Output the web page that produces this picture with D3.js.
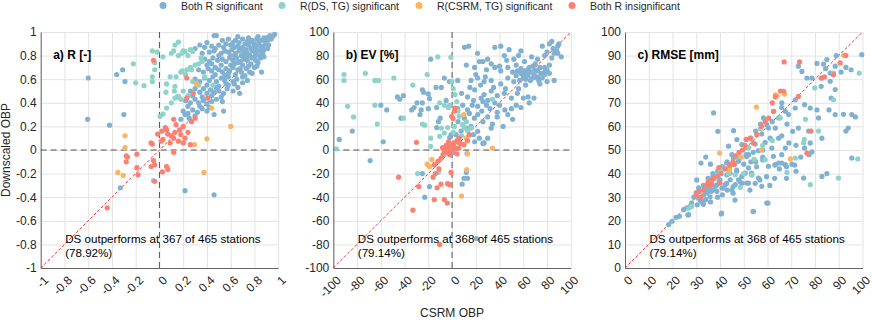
<!DOCTYPE html>
<html>
<head>
<meta charset="utf-8">
<script src="https://cdn.jsdelivr.net/npm/d3@7"></script>
<style>
  body { margin: 0; background: #fff; }
  svg { font-family: "Liberation Sans", Arial, sans-serif; }
</style>
</head>
<body>
<svg width="872" height="320"></svg>
<script>
// categories (legend order)
const categories = ['Both R significant', 'R(DS, TG) significant', 'R(CSRM, TG) significant', 'Both R insignificant']
const catColors = ['#80b1d3', '#8dd3c7', '#fdb462', '#fb8072']

// tick labels
const rTicks = [-1, -0.8, -0.6, -0.4, -0.2, 0, 0.2, 0.4, 0.6, 0.8, 1]
const evTicks = [-100, -80, -60, -40, -20, 0, 20, 40, 60, 80, 100]
const rmseTicks = [0, 10, 20, 30, 40, 50, 60, 70, 80, 90, 100]

const panelTitles = ['a) R [-]', 'b) EV [%]', 'c) RMSE [mm]']
const outperformText = [
  ['DS outperforms at 367 of 465 stations', '(78.92%)'],
  ['DS outperforms at 368 of 465 stations', '(79.14%)'],
  ['DS outperforms at 368 of 465 stations', '(79.14%)']
]

/* ---- a) R : [CSRM OBP, Downscaled OBP] ---- */
const rBoth = [
  [-0.60,0.61],[-0.605,0.26],[-0.42,0.21],[-0.30,0.30],[-0.36,0.64],[-0.31,0.68],[-0.29,0.58],[-0.33,-0.32],
  [0.215,-0.345],[0.46,-0.38],[0.675,0.48],[0.54,0.33],
  [0.93,0.97],[0.95,0.96],[0.97,0.98],[0.90,0.95],[0.46,0.97],[0.48,0.97],
  [0.64,0.93],[0.70,0.94],[0.74,0.92],[0.78,0.93],[0.82,0.94],[0.86,0.93],[0.88,0.95],[0.91,0.93],[0.67,0.91],[0.72,0.90],[0.34,0.89],[0.40,0.91],[0.58,0.94],
  [0.30,0.86],[0.38,0.87],[0.44,0.88],[0.50,0.89],[0.54,0.87],[0.60,0.89],[0.63,0.87],[0.66,0.88],[0.70,0.87],[0.75,0.89],[0.80,0.88],[0.84,0.89],[0.87,0.88],[0.90,0.90],[0.92,0.89],[0.56,0.90],[0.47,0.86],[0.77,0.86],[0.82,0.85],
  [0.36,0.82],[0.42,0.83],[0.46,0.84],[0.52,0.82],[0.55,0.84],[0.58,0.83],[0.61,0.85],[0.64,0.82],[0.67,0.84],[0.71,0.83],[0.74,0.82],[0.78,0.84],[0.81,0.82],[0.85,0.84],[0.88,0.85],[0.60,0.80],[0.69,0.80],[0.73,0.79],[0.76,0.80],[0.84,0.80],[0.50,0.80],
  [0.38,0.77],[0.42,0.75],[0.45,0.78],[0.49,0.76],[0.53,0.77],[0.56,0.75],[0.59,0.78],[0.62,0.76],[0.65,0.78],[0.68,0.75],[0.71,0.77],[0.74,0.76],[0.78,0.78],[0.81,0.76],[0.85,0.78],[0.63,0.73],[0.70,0.72],[0.77,0.73],[0.83,0.74],[0.40,0.72],
  [0.33,0.68],[0.37,0.66],[0.41,0.69],[0.44,0.67],[0.47,0.70],[0.50,0.68],[0.53,0.66],[0.56,0.69],[0.59,0.67],[0.62,0.70],[0.66,0.68],[0.69,0.66],[0.73,0.69],[0.76,0.66],[0.80,0.70],[0.47,0.64],[0.55,0.63],[0.64,0.64],[0.72,0.63],[0.86,0.66],
  [0.30,0.60],[0.34,0.58],[0.38,0.61],[0.42,0.59],[0.45,0.62],[0.48,0.58],[0.52,0.61],[0.55,0.59],[0.58,0.62],[0.62,0.58],[0.65,0.60],[0.70,0.57],[0.74,0.59],[0.40,0.55],[0.50,0.54],[0.58,0.55],[0.66,0.53],
  [0.26,0.50],[0.30,0.52],[0.34,0.49],[0.37,0.52],[0.40,0.48],[0.43,0.51],[0.46,0.49],[0.50,0.50],[0.54,0.48],[0.57,0.52],[0.62,0.50],[0.28,0.46],[0.36,0.45],[0.44,0.46],[0.52,0.45],
  [0.22,0.42],[0.26,0.40],[0.30,0.43],[0.33,0.40],[0.37,0.42],[0.40,0.39],[0.44,0.41],[0.48,0.43],[0.53,0.41],[0.34,0.37],[0.42,0.36],[0.24,0.37],
  [0.20,0.33],[0.24,0.31],[0.28,0.34],[0.32,0.32],[0.36,0.35],[0.40,0.33],[0.46,0.30],[0.30,0.29],[0.215,0.30],[0.25,0.27],[0.18,0.26],
  [0.62,0.91],[0.76,0.91],[0.84,0.92],[0.94,0.94],[0.96,0.97],[0.89,0.92],[0.80,0.90],[0.68,0.86],[0.73,0.85],[0.79,0.87],
  [0.86,0.87],[0.91,0.86],[0.64,0.79],[0.72,0.81],[0.80,0.79],[0.87,0.82],[0.66,0.74],[0.75,0.71],[0.82,0.71],[0.88,0.79],
  [0.60,0.72],[0.68,0.69],[0.58,0.65],[0.52,0.72],[0.44,0.73],[0.70,0.62],[0.78,0.65],[0.63,0.56],[0.56,0.56],[0.48,0.53],
  [0.53,0.93],[0.66,0.96],[0.83,0.96],[0.75,0.95]
]
const rDs = [
  [-0.22,0.73],[-0.20,0.57],[-0.13,0.545],[-0.06,0.84],[-0.02,0.83],[-0.04,0.74],[-0.04,0.68],[-0.06,0.62],[-0.06,0.58],[-0.05,-0.26],
  [0.005,0.285],[0.03,0.305],[0.055,0.49],[0.06,0.355],[0.10,0.82],[0.13,0.89],[0.16,0.915],[0.19,0.82],[0.215,0.835],[0.26,0.85],[0.28,0.835],
  [0.13,0.44],[0.16,0.455],[0.18,0.43],[0.19,0.67],[0.23,0.68],[0.27,0.68],[0.33,0.73],[0.36,0.75],[0.125,0.50],[0.13,0.54],
  [0.14,0.62],[0.18,0.66],[0.22,0.64],[0.26,0.70],[0.30,0.72],[0.24,0.80],[0.16,0.80],[0.12,0.84],[0.20,0.84],[0.35,0.78],
  [0.28,0.58],[0.33,0.55],[0.38,0.62],[0.20,0.50],[0.24,0.46],[0.15,0.45],[0.10,0.40],[0.09,0.62],[0.06,0.56],[0.03,0.79],[0.45,0.55]
]
const rCsrm = [
  [-0.29,0.12],[-0.29,0.02],[-0.35,-0.19],[-0.305,-0.215],[0.375,-0.19],[0.40,0.095],[0.295,0.045],[0.60,0.20],[0.44,0.355],[0.31,0.56]
]
const rNone = [
  [-0.05,0.76],[-0.44,-0.49],[-0.28,-0.05],[-0.27,-0.06],[-0.28,-0.10],[-0.19,-0.035],[-0.19,-0.15],[-0.18,-0.21],[-0.07,0.06],[-0.06,0.05],
  [-0.05,-0.09],[-0.04,-0.125],[-0.07,-0.14],[-0.04,-0.265],[0.025,-0.185],[0.06,-0.14],[0.07,-0.165],[0.12,-0.02],
  [-0.015,0.135],[0.02,0.16],[0.03,0.09],[0.05,0.19],[0.07,0.135],[0.09,0.06],[0.12,0.10],[0.13,0.15],[0.14,0.215],[0.16,0.075],
  [0.18,0.13],[0.20,0.06],[0.215,0.10],[0.24,0.15],[0.26,0.045],[0.27,0.24],[0.30,0.27],[0.285,0.48],[0.23,0.61],[0.23,0.44],
  [0.12,0.26],[0.06,0.17],[0.015,0.075],[0.10,0.12],[0.17,0.17],[0.20,0.20],[0.405,0.44]
]

/* ---- b) EV ---- */
const evBoth = [
  [-95,9],[-84,16],[-69,-9],[-60,38],[-55,34],[-58,7],[-46,45],[-44,43],[-41,46],[-43,27],[-32,36],[-29.5,40],[-27,30],[-26,34],
  [-24,49],[-20,47.5],[-19,43.5],[-18,77],[-25,51],[-13.5,53],[-9,53],[-13,36],[-13,19],[-10,27],[-11.5,24],[-25,-20],[-23,-40],
  [-19,-31],[8.5,-29],[12,-19],[10,-24],[13,-24],[12.6,-3],[1,-2],[20.5,-75],[26,5.6],[19,7],[23,10],[-25,40],[-34,34],[-5,42],[-20,35],
  [76,88],[82,90],[85,86],[89,88],[80,83],[86,82],[36,87],[10.5,87],[14,88],[41,88],[48,85],
  [21.5,82],[26,75],[30,77],[44,80],[52,77],[58,84],[67,79],[72,77],[78,80],[84,78],[92,79],[89,82],[61,75],
  [12,72],[19,70],[23,75],[29,68],[36,70],[41,67],[47,70],[54,72],[58,69],[64,68],[68,71],[72,67],[78,70],[82,72],[86,59],
  [51,66],[54,63],[55,67],[58,65],[60,62],[61,67],[64,63],[66,66],[69,64],[72,62],[75,65],[62,60],[57,59],[66,59],[70,68],
  [73,59],[68,61],[63,65],[76,61],[60,64],[65,70],
  [-6.5,61],[-2.3,58],[4.8,59],[16,59],[21.6,61],[27,58],[33,59],[41,56],[47,61],[52,58],[62,55],[72,61],[78,64],
  [8,48],[13,45],[19,51],[24.5,44],[27,47],[30,42],[33,50],[38,46],[44,48],[50,44],[55,48],[64,45],[69,44],[50,35],
  [4.8,35],[9,38],[13,34],[17,38],[21.6,37],[26,41],[29,38],[32,35],[36,40],[40,38],[44.5,34],[51,26],[43,20],
  [10.4,27],[14.6,31],[18.8,27],[21.6,30],[26,24],[30,28],[34,22],[38,28],[33,18.6],[21.6,15.8],[27,6],[30,10],
  [7.6,16],[12,18.6],[16,20],[18,13],[3.4,13],[-0.8,13],[-2,10.5],
  [78,66],[74,70],[80,68],[70,73],[82,65],[88,84],[90,90],[84,92],[56,80],[46,76],[40,71],[33,73],[28,62],[20,64],[15,53],
  [24,55],[35,53],[45,52],[56,52],[60,44],[38,32],[47,30],[54,38],[25,33],[18,42],[5,24],[58,36],[65,40],[74,56],[80,58]
]
const evDs = [
  [-91,64],[-91,59],[-73,65],[-88,37],[-83,28],[-63,22],[-65,38],[-65,59],[-62,59],[-49,61],[-41,27],[-33,55],[-21,64],[-25,22],
  [-23,21],[-12,79],[-1,78.5],[-18,10],[-18,3],[-10.4,40],[-6.5,38],[-3,36],[-2,38],[0,58],[1,52],[2.5,47],[4,41],[5,33],
  [6,28.5],[9,21.5],[10.4,18.6],[13,16],[16,18.6],[-9,18.6],[-6.5,14.4],[-3.7,19],[-97.5,1],[-29,-20],[-11.5,-19],[-10.4,11.6],
  [34,43],[1,15],[5,8],[8,12],[12,24],[2,20]
]
const evCsrm = [
  [10,30],[13,-3.4],[12.4,-16.7],[8,-39],[34,1.7],[-21,-12],[-19,-14],[-17,-8],[12,10]
]
const evNone = [
  [-30,6.5],[-45,-23],[-28,-31],[-33,-51],[-15,-42],[-6.5,-42],[-4,-45],[-10.4,-80],[-12.6,-32],[-9.3,-29],[-0.8,-19],[-3.7,-28.5],
  [-2,-29.4],[-12,-9.6],[-15,-12.4],[-9.3,-7],[-7.6,-4],[-6.5,-1],[-5,0.3],[-3.7,1],[-2.3,2.3],[-1,3],[0.5,4],[-1.5,5],[1.5,6],
  [3.4,7],[4.8,8.5],[6,10],[3.4,1],[-0.3,28.5],[0.8,26.6],[2,33],[2.5,35.6],[14.6,13],[13,8],[10,4.5],[7,5.6],[5.6,1.7],[4.2,-3.4],
  [-4,-2],[-2,-4],[-8,2],[-5,4],[-3,7],[-1,-1],[2,2],[-11,-16],[-14,-20],[-16,-23]
]

/* ---- c) RMSE ---- */
const rmseBoth = [
  [18.4,18.4],[19.8,19.8],[21.5,21.5],[22.9,21.9],[24.7,24.7],[26,25.5],[27.5,26.1],[26.8,22.6],[30.4,26.8],[32.1,28.2],[31,29.7],
  [33.1,31],[34.6,31.8],[35.2,33.6],[36.6,35.3],[36.3,32.5],[38,34.6],[38.7,32.5],[39.7,37],[40.8,33.9],[40.5,22.9],[42.2,35.3],
  [42.9,39.5],[44.3,37.4],[45,33],[46.4,35.3],[47.8,37.4],[49.2,38.8],[50.6,40.2],[52,36],[54.1,24],[59.7,27.5],[37.3,65.7],
  [39.1,57.9],[45.7,58.2],[43.6,51.6],[47.1,54.4],[49.2,52.3],
  [29,30],[30,32],[33,35],[34,29],[35,38],[37,40],[39,41],[41,43],[43,45],[44,42],[36,28],[39,30],[41,31],[43,33],[33,27],[28,27.5],
  [31,34],[46,44],[48,46],[45,48],[47,41],[50,44],[51,48],[34,47],[36,44],[32,44.5],
  [30.2,37.3],[33.6,34.4],[34.4,32.3],[37,33],[38.6,35.2],[40,37.3],[41.3,33.9],[42.8,35.9],[45.5,34.4],[45.5,31.7],[46.3,28.8],
  [48.4,36.6],[51.2,36],[52.6,33],[53.3,40.2],[55.4,42.9],[56.8,37.3],[59.6,38.7],[60.2,27.5],[53.9,23.9],[40.7,23.3],[26.5,22.5],
  [31.6,28.8],[32.9,27.5],[35.8,30.2],[63.1,43.6],[65,42],[66,44.5],[68,42.9],[71.5,43.6],[58,45.8],[53,45],[47,41.5],[44.2,40.2],
  [42.8,44.5],[37,38.7],[51.2,47.2],[54,49],[58,50],
  [99.7,90.4],[93,85],[95.2,84],[88.5,85.5],[85,88.3],[83.6,86.4],[80.8,86.7],[78.7,80.5],[76.6,80.5],[73,85.5],[74.5,83.3],
  [86.4,82.6],[84.5,84.5],[82.9,80.5],[86.4,79.1],[88.5,75.6],[86.8,72],[82.6,77],[85.9,67],[88.5,65],[92,65.1],[93,58],[94,59.3],
  [95.5,65],[95.5,46.6],[82.9,38.8],[80.8,67],[81.5,63.6],[78,67.8],[82.9,55],[77.3,58],[78,53],[78.7,49.2],[75.6,50.8],[73,59.3],
  [70.6,57.9],[71.7,67.8],[71.7,71.3],[75.6,69.2],[68.9,65],[68.2,61],[66,68],[64.7,63.6],[63.3,59.3],[64.7,55],[67.5,50.8],
  [70.3,44],[75.2,38.1],[85,40],[77.5,48],
  [54.8,52.5],[56.2,49.7],[57.6,56.8],[59,53.2],[60.4,59.3],[61.1,55],[61.8,50.8],[62.5,47.3],[63.3,43.8],[64.7,44.5],[66,48],
  [67.5,43.8],[59.7,60.7],[58.3,63.6],[62.5,66.4],[66,70],[67.5,66.4],[60.4,43.1],[53.4,39.5],[52,42.4],[56.2,38.1],[57.6,34.6],
  [54.8,35.9],[49.2,35.9],[47.8,45.2],[45.7,46.6],[44.3,43.8],[52,48],[51.3,51],[55,45],[58,47],[69,53],[72,52],[74,47],[66,56],
  [62,62],[55,58],[57,61],[53,55],[68,38],[72,41],[63,38],[61,35],[89,90],[91,83],[97,64]
]
const rmseDs = [
  [26.8,25.4],[28,26],[41.5,42],[43.6,40],[46.4,39.5],[48.5,34.2],[53.4,39.5],[59,45.9],[65.4,63.6],[71.7,46.6],[75.2,53],[75.5,54.5],
  [81.5,58],[79.9,76.3],[87.8,71.3],[87.8,82.6],[98.6,82.6],[98,46.2],[89.9,38.1],[78,35.3],[68.2,40.5],[54.4,46],[50,40],[38,38],
  [40,40.5],[47,47],[58,52],[62,54],[36.5,36.5],[52,51],[57,59],[76,63]
]
const rmseCsrm = [
  [55.3,68.2],[63.3,73.4],[67.2,73.7],[39.8,48.7],[69.6,46.2],[92,90.1],[57.4,50.1],[45.5,44],[44,41.5],[49,47],[64,73]
]
const rmseNone = [
  [31,32.5],[33,33],[34.5,35.3],[36.5,37],[37.3,38.1],[39,39],[40.5,40],[42.2,42],[44,43.6],[45.5,45],[46.5,47.5],[48,49],
  [49.5,50],[50.5,52],[52.7,55],[54,53],[55.5,56.5],[57.5,60],[59,62],[60.5,63.5],[62.6,66.4],[63.3,72.5],[65.5,75],[66.8,74.9],
  [67,87.3],[73.5,87.3],[73,72.7],[82.6,80.5],[84,81],[87.8,81.9],[90.6,86.9],[93,90],[76.6,48.7],[78.3,58],[40,36],[39.5,42.5],
  [35,36.5],[32,30],[51,54.5],[36,35],[30,31],[62,70],[46,44]
]

const panelData = [
  { ticks: rTicks, series: [rBoth, rDs, rCsrm, rNone] },
  { ticks: evTicks, series: [evBoth, evDs, evCsrm, evNone] },
  { ticks: rmseTicks, series: [rmseBoth, rmseDs, rmseCsrm, rmseNone] }
]

/* LAYOUT */
const svg = d3.select('svg')
const plotLefts = [40.7, 333.3, 625]
const plotW = 237.5
const plotTop = 32, plotBottom = 268
const textColor = '#262626'
const fmt = d => String(+(+d).toFixed(1))

panelData.forEach((p, i) => {
  const dom = [p.ticks[0], p.ticks[p.ticks.length - 1]]
  const left = plotLefts[i]
  const x = d3.scaleLinear().domain(dom).range([left, left + plotW])
  const y = d3.scaleLinear().domain(dom).range([plotBottom, plotTop])
  const g = svg.append('g')

  /* GRID */
  g.append('g')
    .attr('transform', `translate(0, ${plotBottom})`)
    .call(d3.axisBottom(x).tickValues(p.ticks).tickSize(-(plotBottom - plotTop)).tickFormat(''))
    .call(a => a.select('.domain').remove())
    .call(a => a.selectAll('line').attr('stroke', '#e3e3e3'))
  g.append('g')
    .attr('transform', `translate(${left}, 0)`)
    .call(d3.axisLeft(y).tickValues(p.ticks).tickSize(-plotW).tickFormat(''))
    .call(a => a.select('.domain').remove())
    .call(a => a.selectAll('line').attr('stroke', '#e3e3e3'))

  /* ZERO LINES (R and EV only) */
  if (dom[0] < 0) {
    g.append('line')
      .attr('x1', x(0)).attr('x2', x(0)).attr('y1', plotTop).attr('y2', plotBottom)
      .attr('stroke', '#555').attr('stroke-dasharray', '6,4')
    g.append('line')
      .attr('x1', left).attr('x2', left + plotW).attr('y1', y(0)).attr('y2', y(0))
      .attr('stroke', '#555').attr('stroke-dasharray', '6,4')
  }

  /* 1:1 LINE */
  g.append('line')
    .attr('x1', x(dom[0])).attr('y1', y(dom[0]))
    .attr('x2', x(dom[1])).attr('y2', y(dom[1]))
    .attr('stroke', '#f03030').attr('stroke-dasharray', '3,2')

  /* POINTS */
  p.series.forEach((pts, ci) => {
    g.append('g').selectAll('circle')
      .data(pts)
      .enter().append('circle')
      .attr('cx', d => x(d[0]))
      .attr('cy', d => y(d[1]))
      .attr('r', 2.6)
      .attr('fill', catColors[ci])
  })

  /* AXES */
  const yAxis = g.append('g')
    .attr('transform', `translate(${left}, 0)`)
    .call(d3.axisLeft(y).tickValues(p.ticks).tickSize(0).tickFormat(fmt))
  const xAxis = g.append('g')
    .attr('transform', `translate(0, ${plotBottom})`)
    .call(d3.axisBottom(x).tickValues(p.ticks).tickSize(0).tickFormat(fmt))
  ;[xAxis, yAxis].forEach(a => {
    a.select('.domain').attr('stroke', '#666')
    a.selectAll('text').attr('fill', textColor).attr('font-size', 12)
      .attr('font-family', '"Liberation Sans", Arial, sans-serif')
  })
  yAxis.selectAll('text').attr('x', -4)
  xAxis.selectAll('text')
    .attr('x', 0).attr('y', 0).attr('dy', '0.35em')
    .attr('text-anchor', 'end')
    .attr('transform', 'translate(5, 10) rotate(-45)')

  /* TITLE & ANNOTATION */
  g.append('text')
    .attr('x', left + 12.5).attr('y', 59)
    .attr('font-size', 12).attr('font-weight', 'bold').attr('fill', '#000')
    .text(panelTitles[i])
  outperformText[i].forEach((t, k) => {
    g.append('text')
      .attr('x', left + 24.5).attr('y', 243 + k * 14)
      .attr('font-size', 11.6).attr('fill', '#000')
      .text(t)
  })
})

/* AXIS LABELS */
svg.append('text')
  .attr('transform', 'translate(10, 150) rotate(-90)')
  .attr('text-anchor', 'middle').attr('font-size', 12).attr('fill', textColor)
  .text('Downscaled OBP')
svg.append('text')
  .attr('x', 452).attr('y', 317)
  .attr('text-anchor', 'middle').attr('font-size', 12).attr('fill', textColor)
  .text('CSRM OBP')

/* LEGEND */
const legendX = [163, 282, 419, 572]
const legend = svg.append('g')
categories.forEach((c, i) => {
  legend.append('circle').attr('cx', legendX[i]).attr('cy', 5.5).attr('r', 3.5).attr('fill', catColors[i])
  legend.append('text').attr('x', legendX[i] + 18).attr('y', 9.5)
    .attr('font-size', 10.5).attr('fill', textColor).text(c)
})
</script>
</body>
</html>
